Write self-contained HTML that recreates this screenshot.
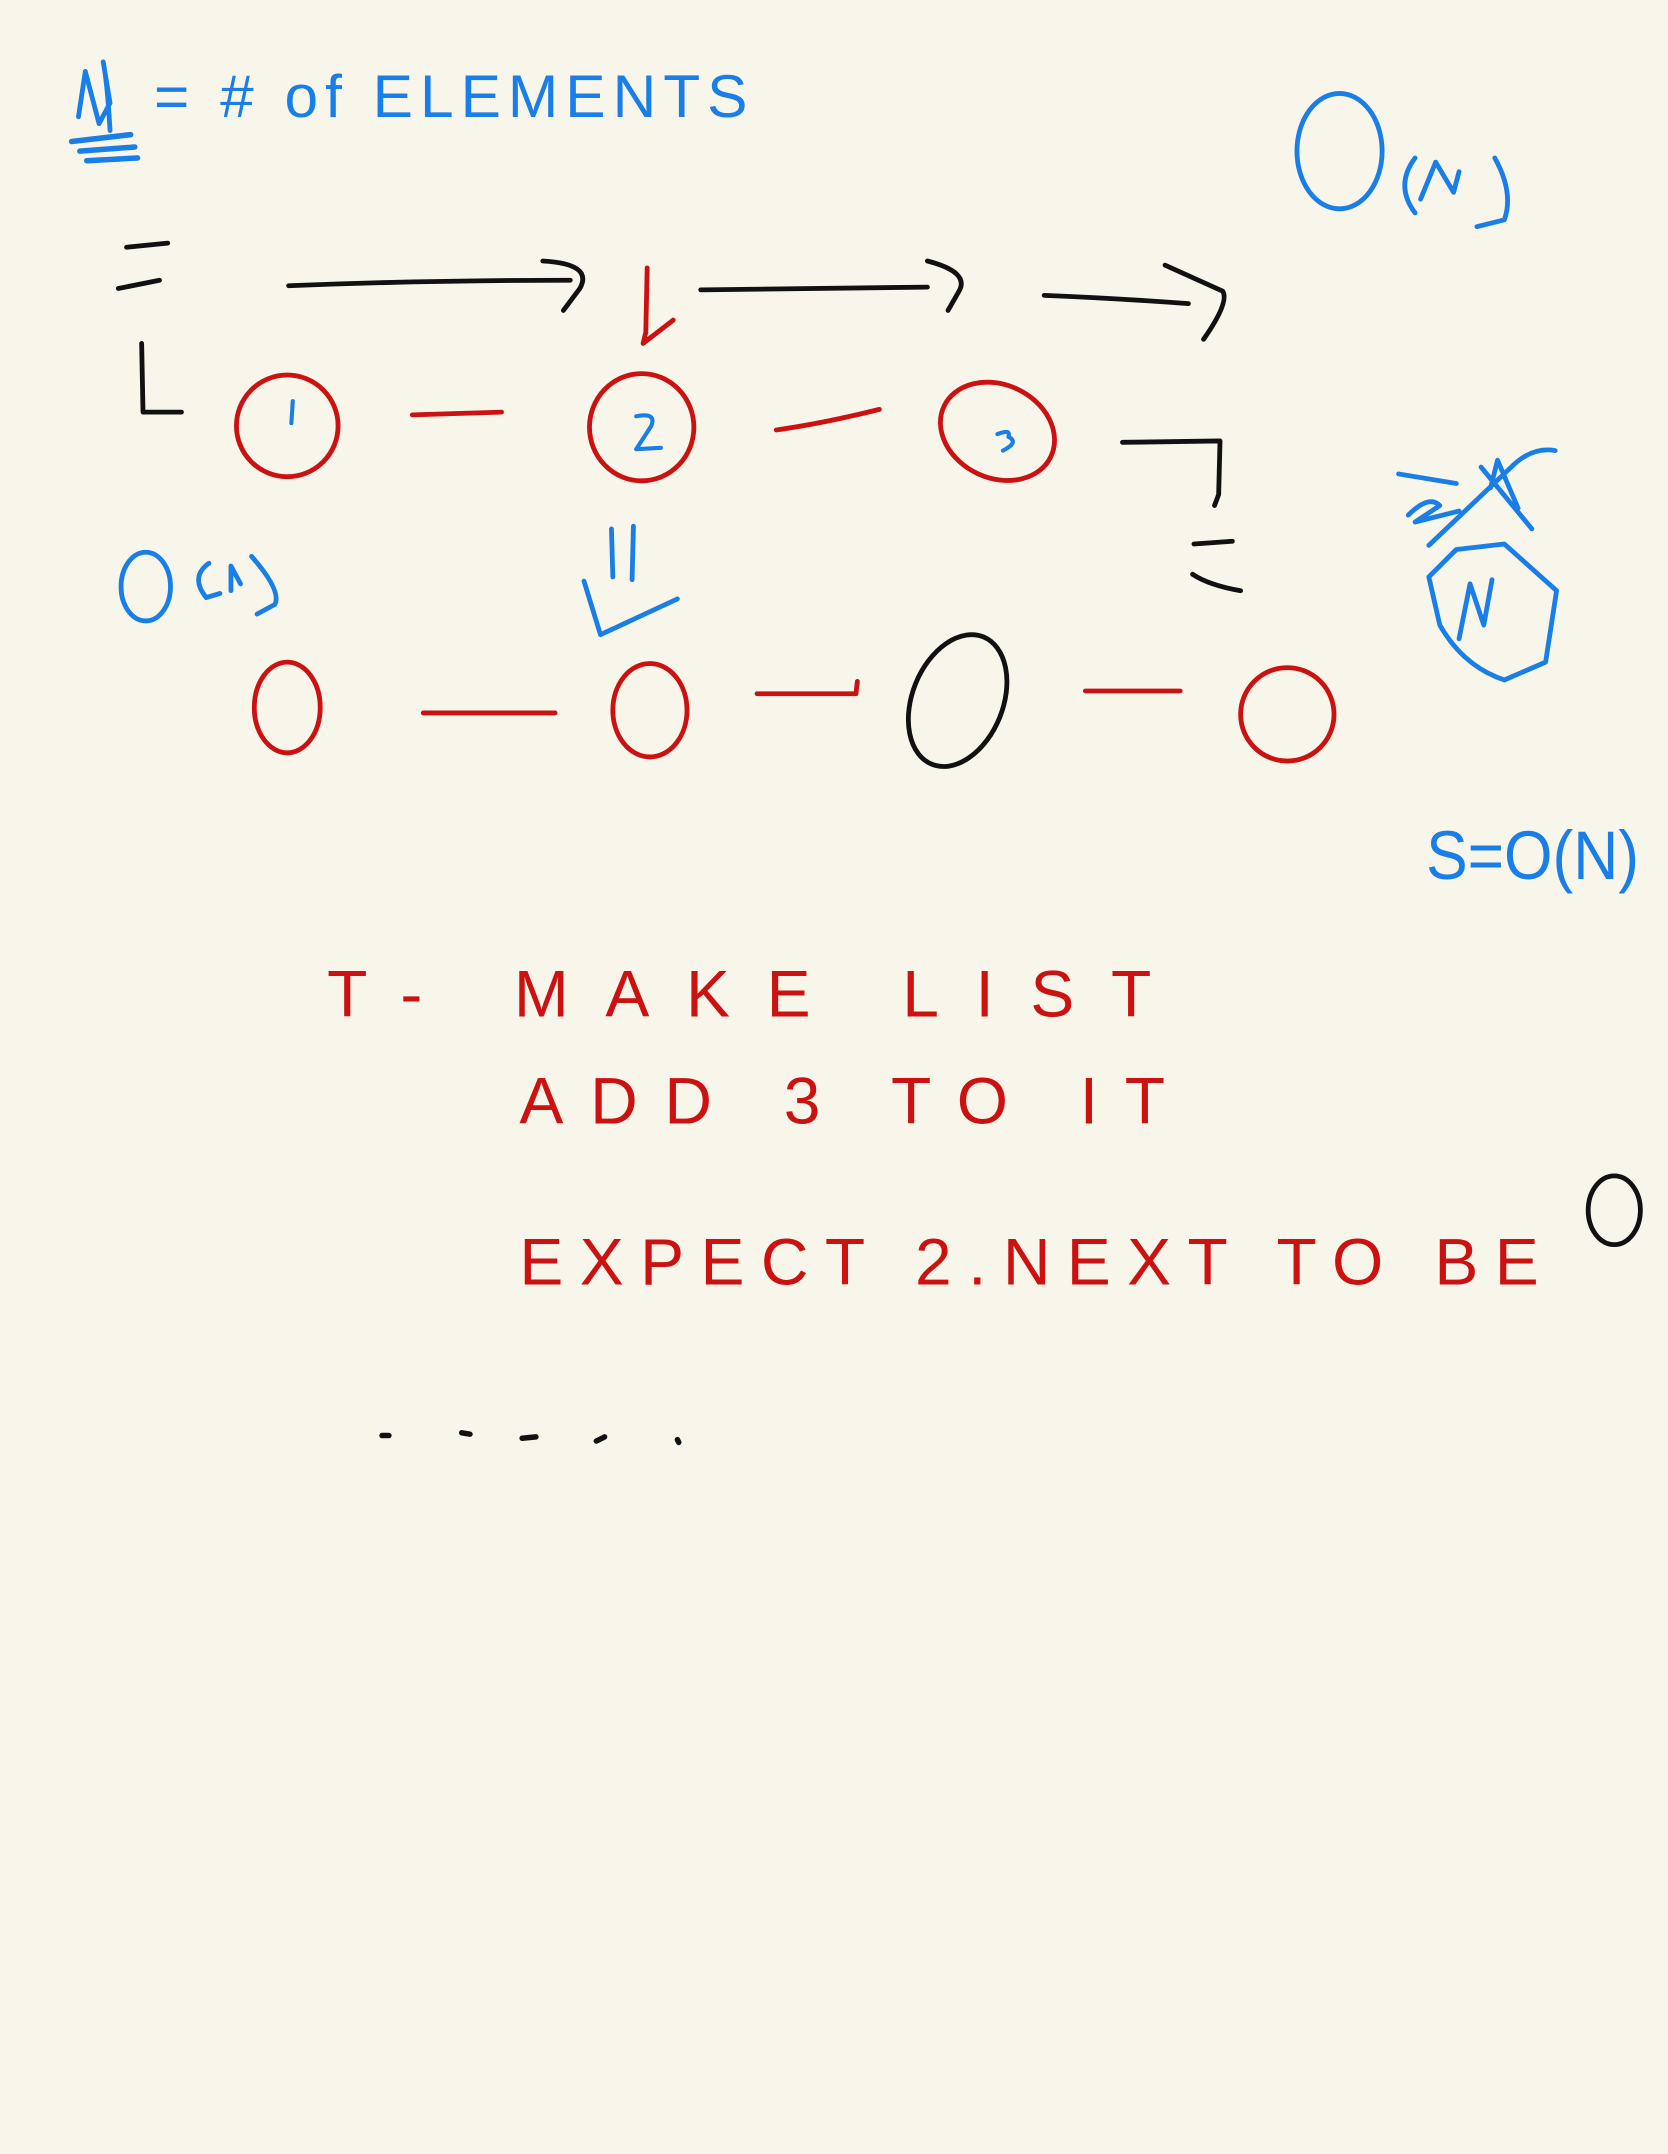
<!DOCTYPE html>
<html><head><meta charset="utf-8"><style>
html,body{margin:0;padding:0;background:#f8f6ea;}
svg{display:block}
text{font-family:"Liberation Sans",sans-serif;}
</style></head><body>
<svg width="1668" height="2154" viewBox="0 0 1214 1568" xmlns="http://www.w3.org/2000/svg">
<rect width="1214" height="1568" fill="#f8f6ea"/>
<g fill="none" stroke-linecap="round" stroke-linejoin="round" stroke-width="3.5">
 <g stroke="#1a7ee8">
  <path d="M57,85 L62,52 L72,90 L80,75 L75,45 Q78,60 80,95" />
  <path d="M52,103 L95,98 M58,110 L98,107 M63,117 L100,115" stroke-width="4"/>
 </g>
 <text x="112" y="85" font-size="44" fill="#1a7ee8" textLength="432" lengthAdjust="spacing">= # of ELEMENTS</text>
 <g stroke="#1a7ee8">
  <ellipse cx="975" cy="110" rx="31" ry="42"/>
  <path d="M1030,115 Q1015,135 1030,155 M1034,145 L1045,118 L1058,140 L1062,125 M1088,115 Q1102,140 1095,160 L1075,165"/>
 </g>
 <g stroke="#111">
  <path d="M92,180 L122,177 M86,210 L116,204"/>
  <path d="M103,250 L104,300 L132,300"/>
  <path d="M210,208 Q310,204 415,204 M395,190 Q432,192 422,210 L410,226"/>
  <path d="M510,211 Q600,210 675,209 M675,190 Q706,198 698,212 L690,226"/>
  <path d="M760,215 Q810,217 865,221 M848,193 L890,212 Q895,220 876,247"/>
  <path d="M817,322 L888,321 L887,360 L884,368"/>
  <path d="M869,396 L897,394 M868,418 Q880,426 903,430"/>
 </g>
 <path d="M471,195 L470,242 L468,250 L490,233" stroke="#cc1111"/>
 <g stroke="#cc1111">
  <ellipse cx="209" cy="310" rx="37" ry="37"/>
  <ellipse cx="467" cy="311" rx="38" ry="39"/>
  <ellipse cx="726" cy="314" rx="43" ry="34" transform="rotate(25 726 314)"/>
  <path d="M300,302 L365,300 M565,313 Q600,308 640,298"/>
 </g>
 <g stroke="#1a7ee8" stroke-width="3">
  <path d="M213,292 L212,308"/>
  <path d="M463,303 Q478,300 474,310 L463,327 L481,326"/>
  <path d="M726,316 Q736,312 734,318 Q742,322 730,328"/>
 </g>
 <g stroke="#1a7ee8">
  <ellipse cx="106" cy="427" rx="18" ry="25"/>
  <path d="M152,410 Q138,420 150,435 L160,432 M168,430 L168,412 L175,425 M183,405 Q205,430 200,440 L187,447"/>
 </g>
 <path d="M445,385 L446,420 M461,383 L460,422 M425,423 L437,462 L493,436" stroke="#1a7ee8"/>
 <g stroke="#cc1111">
  <ellipse cx="209" cy="515" rx="24" ry="33"/>
  <ellipse cx="473" cy="517" rx="27" ry="34"/>
  <ellipse cx="937" cy="520" rx="34" ry="34"/>
  <path d="M308,519 L404,519 M551,505 L623,505 L624,496 M790,503 L859,503"/>
 </g>
 <ellipse cx="697" cy="510" rx="33" ry="50" transform="rotate(22 697 510)" stroke="#111"/>
 <g stroke="#1a7ee8">
  <path d="M1018,345 L1060,352 M1025,375 Q1040,360 1048,368 L1030,380 L1062,372 M1085,355 L1090,335 L1105,370 M1040,397 L1100,340 Q1115,325 1132,328 M1078,340 L1115,385"/>
  <path d="M1060,400 L1095,396 L1133,430 L1125,482 L1095,495 Q1065,485 1048,455 L1040,420 Z"/>
  <path d="M1062,465 L1070,425 L1080,455 L1086,422"/>
 </g>
 <text x="1038" y="640" font-size="50" fill="#1a7ee8" textLength="155" lengthAdjust="spacingAndGlyphs">S=O(N)</text>
 <text x="238" y="740" font-size="48" fill="#cc1111" textLength="600" lengthAdjust="spacing">T- MAKE  LIST</text>
 <text x="378" y="818" font-size="48" fill="#cc1111" textLength="470" lengthAdjust="spacing">ADD  3  TO  IT</text>
 <text x="378" y="935" font-size="48" fill="#cc1111" textLength="742" lengthAdjust="spacing">EXPECT  2.NEXT  TO BE</text>
 <ellipse cx="1175" cy="881" rx="19" ry="25" stroke="#111"/>
 <g stroke="#111" stroke-width="4">
  <path d="M278,1045 L283,1045 M336,1043 L342,1044 M380,1047 L390,1046 M434,1049 L440,1046 M493,1048 L494,1050"/>
 </g>
</g>
</svg>
</body></html>
